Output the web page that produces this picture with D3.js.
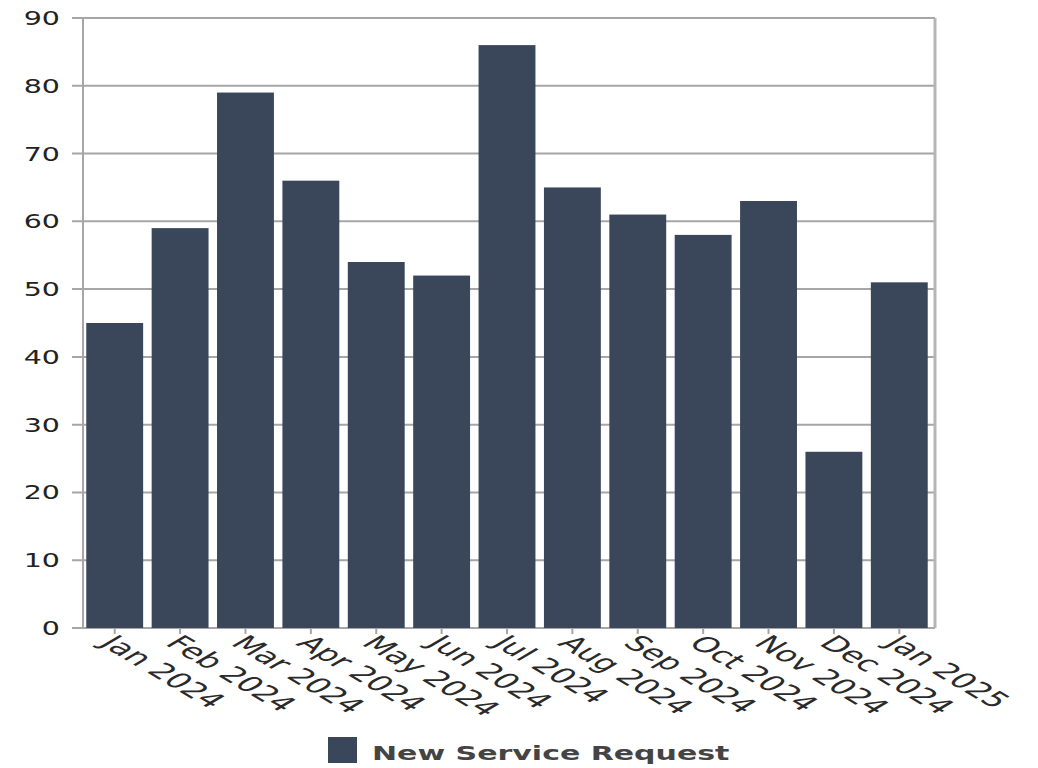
<!DOCTYPE html>
<html>
<head>
<meta charset="utf-8">
<script src="https://cdn.jsdelivr.net/npm/d3@7"></script>
<style>
  body { margin: 0; background: #fff; }
  svg { display: block; }
</style>
</head>
<body>
<script>
// data
var months = ["Jan 2024", "Feb 2024", "Mar 2024", "Apr 2024", "May 2024", "Jun 2024",
  "Jul 2024", "Aug 2024", "Sep 2024", "Oct 2024", "Nov 2024", "Dec 2024", "Jan 2025"];
var requests = [45, 59, 79, 66, 54, 52, 86, 65, 61, 58, 63, 26, 51];
var yTicks = [0, 10, 20, 30, 40, 50, 60, 70, 80, 90];
var seriesName = "New Service Request";

var w = 1038, h = 768;
var barColor = "#3a475a";
var sx = 1.5; // text looks stretched sideways in the reference
var sxLabel = 1.7;

// plot box (don't call it "top", that's window.top)
var plotL = 83, plotR = 935, plotT = 18, plotB = 628;

var svg = d3.select("body").append("svg")
  .attr("width", w)
  .attr("height", h)
  .style("font-family", "'DejaVu Sans', sans-serif");

var x = d3.scaleBand()
  .domain(months)
  .range([plotL, plotR - 4])
  .paddingInner(0.13)
  .paddingOuter(0.05);

var y = d3.scaleLinear()
  .domain([0, 90])
  .range([plotB, plotT]);

// gridlines + left ticks
svg.append("g")
  .selectAll("line")
  .data(yTicks)
  .enter()
  .append("line")
  .attr("x1", plotL - 11)
  .attr("x2", plotR)
  .attr("y1", function(d) { return y(d); })
  .attr("y2", function(d) { return y(d); })
  .attr("stroke", "#a6a6a6")
  .attr("stroke-width", 2);

// y labels
svg.append("g")
  .selectAll("text")
  .data(yTicks)
  .enter()
  .append("text")
  .attr("transform", function(d) { return "translate(60," + (y(d) + 7) + ") scale(" + sx + ",1)"; })
  .attr("text-anchor", "end")
  .style("font-size", "19px")
  .style("fill", "#222")
  .text(function(d) { return d; });

// left axis
svg.append("line")
  .attr("x1", plotL).attr("x2", plotL)
  .attr("y1", plotT).attr("y2", plotB)
  .attr("stroke", "#a6a6a6")
  .attr("stroke-width", 2);

// right border
svg.append("line")
  .attr("x1", plotR).attr("x2", plotR)
  .attr("y1", plotT).attr("y2", plotB)
  .attr("stroke", "#b5b5b5")
  .attr("stroke-width", 3);

// bars
svg.append("g")
  .selectAll("rect")
  .data(requests)
  .enter()
  .append("rect")
  .attr("x", function(d, i) { return x(months[i]); })
  .attr("y", function(d) { return y(d); })
  .attr("width", x.bandwidth())
  .attr("height", function(d) { return plotB - y(d); })
  .attr("fill", barColor);

// x ticks
svg.append("g")
  .selectAll("line")
  .data(months)
  .enter()
  .append("line")
  .attr("x1", function(d) { return x(d) + x.bandwidth() / 2; })
  .attr("x2", function(d) { return x(d) + x.bandwidth() / 2; })
  .attr("y1", plotB)
  .attr("y2", plotB + 6)
  .attr("stroke", "#a6a6a6")
  .attr("stroke-width", 2);

// x labels, rotated
svg.append("g")
  .selectAll("text")
  .data(months)
  .enter()
  .append("text")
  .attr("transform", function(d) {
    var cx = x(d) + x.bandwidth() / 2 - 7;
    return "translate(" + cx + "," + (plotB + 11) + ") scale(" + sxLabel + ",1) rotate(45)";
  })
  .attr("text-anchor", "start")
  .attr("dy", "0.35em")
  .style("font-size", "21px")
  .style("fill", "#2a2a2a")
  .text(function(d) { return d; });

// legend
var lg = svg.append("g");
lg.append("rect")
  .attr("x", 328).attr("y", 737)
  .attr("width", 29).attr("height", 26)
  .attr("fill", barColor);
lg.append("text")
  .attr("transform", "translate(372,760) scale(" + sx + ",1)")
  .style("font-size", "20px")
  .style("font-weight", "bold")
  .style("fill", "#444")
  .text(seriesName);
</script>
</body>
</html>
